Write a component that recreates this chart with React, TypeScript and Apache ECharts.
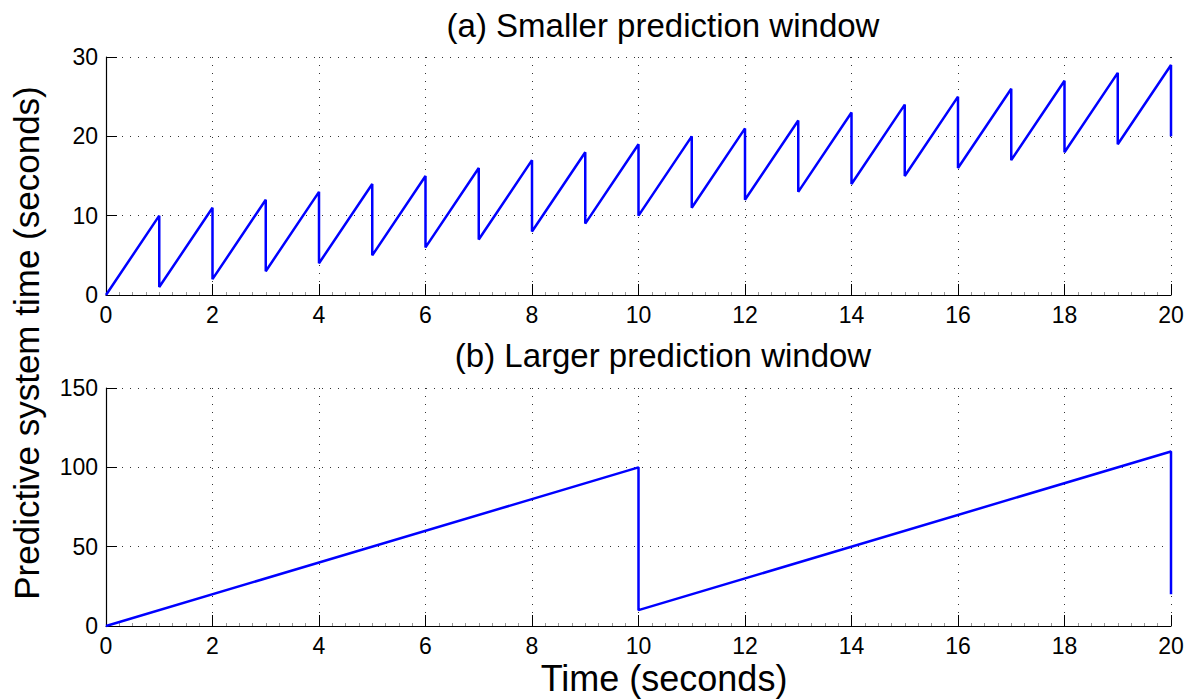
import React, { useEffect, useRef } from "react";
import * as echarts from "echarts";

// Panel (a): smaller prediction window
const topDropTimes = [1, 2, 3, 4, 5, 6, 7, 8, 9, 10, 11, 12, 13, 14, 15, 16, 17, 18, 19, 20];
const topPeaks = [10, 11, 12, 13, 14, 15, 16, 17, 18, 19, 20, 21, 22, 23, 24, 25, 26, 27, 28, 29];
const topTroughs = [1, 2, 3, 4, 5, 6, 7, 8, 9, 10, 11, 12, 13, 14, 15, 16, 17, 18, 19, 20];

// Panel (b): larger prediction window
const bottomDropTimes = [10, 20];
const bottomPeaks = [100, 110];
const bottomTroughs = [10, 20];

const xTicks = [0, 2, 4, 6, 8, 10, 12, 14, 16, 18, 20];
const topYTicks = [0, 10, 20, 30];
const bottomYTicks = [0, 50, 100, 150];

const titles = ["(a) Smaller prediction window", "(b) Larger prediction window"];
const xName = "Time (seconds)";
const yName = "Predictive system time (seconds)";

function buildSaw(times: number[], peaks: number[], troughs: number[]) {
  const pts: number[][] = [[0, 0]];
  times.forEach((t, i) => {
    pts.push([t, peaks[i]]);
    pts.push([t, troughs[i]]);
  });
  return pts;
}

const FONT = "'Liberation Sans', Arial, Helvetica, sans-serif";

export default function App() {
  const ref = useRef<HTMLDivElement>(null);
  useEffect(() => {
    if (!ref.current) return;
    const chart = echarts.init(ref.current, undefined, { renderer: "svg" });
    const gridLine = { show: true, lineStyle: { color: "#333", width: 1, type: [1, 7] as any } };
    const mkX = (gridIndex: number) => ({
      type: "value",
      gridIndex,
      min: xTicks[0],
      max: xTicks[xTicks.length - 1],
      interval: xTicks[1] - xTicks[0],
      axisLine: { show: true, onZero: false, lineStyle: { color: "#000", width: 1.2 } },
      axisTick: { show: true, inside: true, length: 11, lineStyle: { color: "#000", width: 1 } },
      minorTick: { show: true, splitNumber: 8, length: 3, lineStyle: { color: "#999", width: 1 } },
      axisLabel: { color: "#000", fontSize: 23, fontFamily: FONT, margin: 8 },
      splitLine: gridLine,
    });
    const mkY = (gridIndex: number, ticks: number[]) => ({
      type: "value",
      gridIndex,
      min: ticks[0],
      max: ticks[ticks.length - 1],
      interval: ticks[1] - ticks[0],
      axisLine: { show: true, onZero: false, lineStyle: { color: "#000", width: 1.2 } },
      axisTick: { show: true, inside: true, length: 11, lineStyle: { color: "#000", width: 1 } },
      axisLabel: { color: "#000", fontSize: 23, fontFamily: FONT, margin: 8 },
      splitLine: gridLine,
    });
    chart.setOption({
      animation: false,
      backgroundColor: "#fff",
      grid: [
        { left: 106, top: 57, width: 1065, height: 238 },
        { left: 106, top: 388, width: 1065, height: 238 },
      ],
      xAxis: [mkX(0), mkX(1)],
      yAxis: [mkY(0, topYTicks), mkY(1, bottomYTicks)],
      series: [
        {
          type: "line",
          xAxisIndex: 0,
          yAxisIndex: 0,
          data: buildSaw(topDropTimes, topPeaks, topTroughs),
          showSymbol: false,
          lineStyle: { color: "#0000ff", width: 2.5 },
          clip: false,
        },
        {
          type: "line",
          xAxisIndex: 1,
          yAxisIndex: 1,
          data: buildSaw(bottomDropTimes, bottomPeaks, bottomTroughs),
          showSymbol: false,
          lineStyle: { color: "#0000ff", width: 2.5 },
          clip: false,
        },
      ],
      graphic: [
        {
          type: "text",
          x: 663,
          y: 25,
          style: { text: titles[0], fontSize: 33, fontFamily: FONT, fill: "#000", textAlign: "center", textVerticalAlign: "middle" },
        },
        {
          type: "text",
          x: 663,
          y: 355,
          style: { text: titles[1], fontSize: 33, fontFamily: FONT, fill: "#000", textAlign: "center", textVerticalAlign: "middle" },
        },
        {
          type: "text",
          x: 664,
          y: 678,
          style: { text: xName, fontSize: 36, fontFamily: FONT, fill: "#000", textAlign: "center", textVerticalAlign: "middle" },
        },
        {
          type: "text",
          x: 26,
          y: 343,
          rotation: Math.PI / 2,
          style: { text: yName, fontSize: 35, fontFamily: FONT, fill: "#000", textAlign: "center", textVerticalAlign: "middle" },
        },
      ],
    });
    return () => chart.dispose();
  }, []);
  return (
    <div
      ref={ref}
      style={{ position: "fixed", left: 0, top: 0, width: 1189, height: 700, background: "#fff" }}
    />
  );
}
